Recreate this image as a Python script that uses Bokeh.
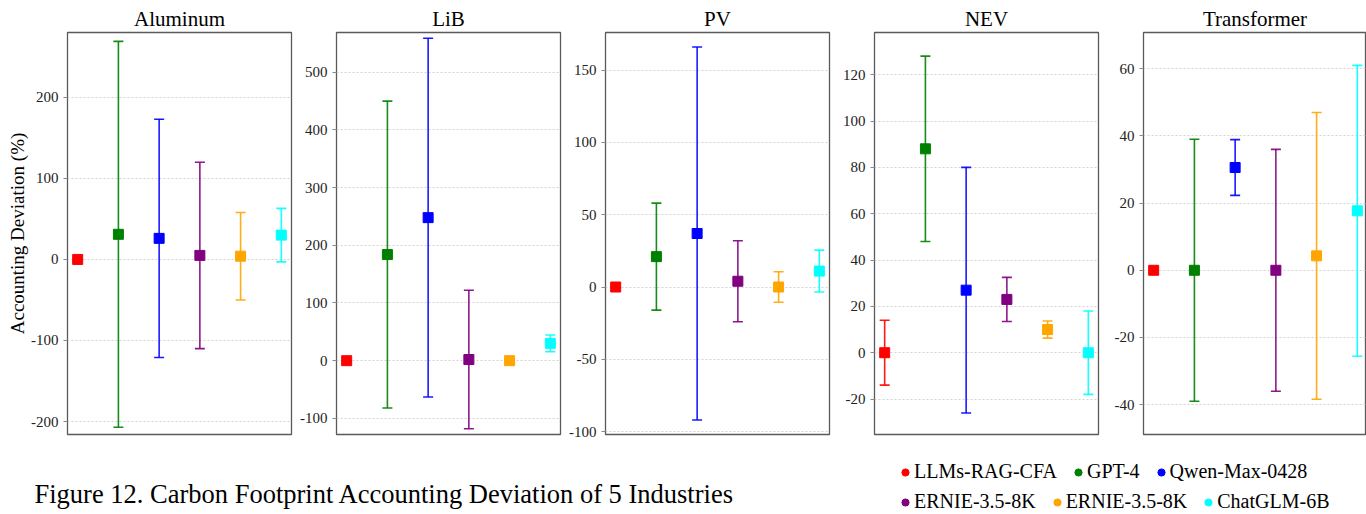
import numpy as np
from bokeh.plotting import figure
from bokeh.models import (ColumnDataSource, Range1d, FixedTicker, Legend,
                          LegendItem, Label)
from bokeh.layouts import row, column
from bokeh.embed import file_html
from bokeh.resources import INLINE

# ---------------- data ----------------
models = ["LLMs-RAG-CFA", "GPT-4", "Qwen-Max-0428", "ERNIE-3.5-8K", "ERNIE-3.5-8K", "ChatGLM-6B"]
colors = ["red", "green", "blue", "purple", "orange", "cyan"]
industries = ["Aluminum", "LiB", "PV", "NEV", "Transformer"]

aluminum_mean = [0, 31, 26, 5, 4, 30]
aluminum_err = [0, 238, 147, 115, 54, 33]
lib_mean = [0, 184, 248, 2, 0, 30]
lib_err = [0, 266, 311, 120, 0, 14.5]
pv_mean = [0, 21, 37, 4, 0, 11]
pv_err = [0, 37, 129, 28, 10.5, 14.5]
nev_mean = [0, 88, 27, 23, 10, 0]
nev_err = [14, 40, 53, 9.5, 3.7, 18]
transformer_mean = [0, 0, 30.6, 0, 4.3, 17.7]
transformer_err = [0, 39, 8.3, 36, 42.7, 43.3]

aluminum_ticks = [-200, -100, 0, 100, 200]
lib_ticks = [-100, 0, 100, 200, 300, 400, 500]
pv_ticks = [-100, -50, 0, 50, 100, 150]
nev_ticks = [-20, 0, 20, 40, 60, 80, 100, 120]
transformer_ticks = [-40, -20, 0, 20, 40, 60]

y_label = "Accounting Deviation (%)"
caption = "Figure 12. Carbon Footprint Accounting Deviation of 5 Industries"

SERIF = "Liberation Serif"
FRAME = "#5a5a5a"

panel_specs = [
    (industries[0], aluminum_mean, aluminum_err, (-216, 280), aluminum_ticks),
    (industries[1], lib_mean, lib_err, (-128, 569), lib_ticks),
    (industries[2], pv_mean, pv_err, (-102, 176), pv_ticks),
    (industries[3], nev_mean, nev_err, (-35.3, 138.2), nev_ticks),
    (industries[4], transformer_mean, transformer_err, (-48.9, 70.8), transformer_ticks),
]

TOTAL_W = 1366
TOTAL_H = 514
TOP = 32
BOTTOM = 10
FRAME_H = 402
FRAME_W = 224
PX_PER_UNIT = FRAME_W / 5.5
LAST_W = 223


def make_panel(name, means, errs, yr, ticks, first, last):
    xs = list(range(len(models)))
    lo = [m - e for m, e in zip(means, errs)]
    hi = [m + e for m, e in zip(means, errs)]
    src = ColumnDataSource(dict(x=xs, mean=means, lo=lo, hi=hi, color=colors, model=models))
    fw = LAST_W if last else FRAME_W
    p = figure(
        frame_width=fw, frame_height=FRAME_H,
        x_range=Range1d(-0.25, -0.25 + fw / PX_PER_UNIT),
        y_range=Range1d(*yr),
        output_backend="svg", toolbar_location=None,
        x_axis_location=None,
        min_border_left=67 if first else 40,
        min_border_right=0 if last else 5,
        min_border_top=TOP, min_border_bottom=BOTTOM,
        background_fill_color="white", border_fill_color="white",
    )
    p.title.text = name
    p.title.align = "center"
    p.title.text_font = SERIF
    p.title.text_font_size = "21px"
    p.title.text_font_style = "normal"
    p.title.text_color = "black"
    p.title.standoff = 3
    p.title.offset = 0

    p.outline_line_color = FRAME
    p.outline_line_width = 1.3

    ax = p.yaxis[0]
    ax.ticker = FixedTicker(ticks=ticks)
    ax.major_label_overrides = {t: str(t) for t in ticks}
    ax.major_label_text_font = SERIF
    ax.major_label_text_font_size = "15px"
    ax.major_label_text_color = "#222222"
    ax.major_tick_out = 4
    ax.major_tick_in = 0
    ax.minor_tick_out = 0
    ax.minor_tick_in = 0
    ax.major_tick_line_color = "#888888"
    ax.axis_line_color = None
    ax.major_label_standoff = 5
    if first:
        ax.axis_label = y_label
        ax.axis_label_text_font = SERIF
        ax.axis_label_text_font_size = "19px"
        ax.axis_label_text_font_style = "normal"
        ax.axis_label_text_color = "black"
        ax.axis_label_standoff = 0

    for g in p.xgrid:
        g.visible = False
    for g in p.ygrid:
        g.ticker = FixedTicker(ticks=ticks)
        g.grid_line_color = "#c8c8c8"
        g.grid_line_dash = "2 2"
        g.grid_line_width = 0.8

    p.segment(x0="x", y0="lo", x1="x", y1="hi", source=src,
              line_color="color", line_width=1.6, line_alpha=0.9)
    p.scatter(x="x", y="hi", marker="dash", size=10, source=src,
              line_color="color", line_width=1.6, line_alpha=0.9)
    p.scatter(x="x", y="lo", marker="dash", size=10, source=src,
              line_color="color", line_width=1.6, line_alpha=0.9)
    p.scatter(x="x", y="mean", marker="square", size=10, source=src,
              fill_color="color", line_color="color")
    return p


panels = []
n = len(panel_specs)
for i, (name, m, e, yr, tk) in enumerate(panel_specs):
    panels.append(make_panel(name, m, e, yr, tk, i == 0, i == n - 1))

# ---------------- bottom strip: caption + legend ----------------
STRIP_H = TOTAL_H - (TOP + FRAME_H + BOTTOM)
bottom = figure(width=TOTAL_W, height=STRIP_H, x_range=Range1d(0, 1), y_range=Range1d(0, 1),
                output_backend="svg", toolbar_location=None,
                x_axis_location=None, y_axis_location=None,
                min_border=0, outline_line_color=None,
                background_fill_color="white", border_fill_color="white")
for g in bottom.grid:
    g.visible = False

dummy = []
for c in colors:
    r = bottom.scatter(x=[np.nan], y=[np.nan], marker="circle", size=7,
                       fill_color=c, line_color=c)
    dummy.append(r)

legend_common = dict(
    orientation="horizontal", padding=0, margin=0, spacing=12,
    label_standoff=-3, glyph_width=18, glyph_height=18, label_height=20,
    label_text_font=SERIF, label_text_font_size="20px", label_text_color="black",
    border_line_color=None, background_fill_alpha=0,
)
leg1 = Legend(items=[LegendItem(label=models[i], renderers=[dummy[i]]) for i in range(3)],
              location=(896, 31), **legend_common)
leg2 = Legend(items=[LegendItem(label=models[i], renderers=[dummy[i]]) for i in range(3, 6)],
              location=(896, 1), **legend_common)
bottom.add_layout(leg1, "center")
bottom.add_layout(leg2, "center")

bottom.add_layout(Label(x=34, y=21, x_units="screen", y_units="screen", text=caption,
                        text_font=SERIF, text_font_size="26.5px", text_color="black",
                        text_baseline="alphabetic"))

layout = column(row(*panels, spacing=0), bottom, spacing=0)

open("out.html", "w").write(file_html(layout, INLINE))
